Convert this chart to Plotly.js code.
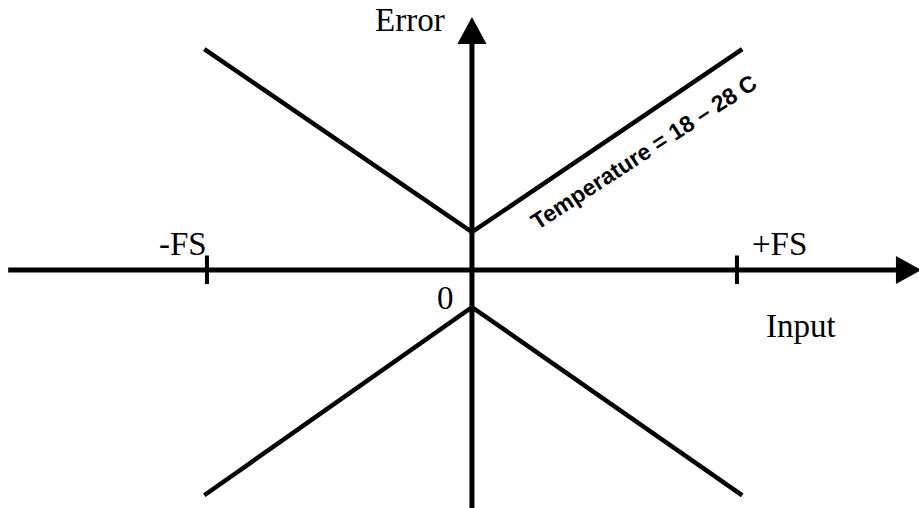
<!DOCTYPE html>
<html>
<head>
<meta charset="utf-8">
<script src="https://cdn.plot.ly/plotly-3.0.1.min.js"></script>
<style>
  html, body { margin: 0; padding: 0; background: #fff; }
  #chart { width: 919px; height: 508px; }
</style>
</head>
<body>
<div id="chart"></div>
<script>
// Input in units of full scale (FS), error in the same relative units
const inputPoints = [-1.01, 0, 1.02];
const upperError  = [0.834, 0.143, 0.834];   // temperature = 18 - 28 C band
const lowerError  = [-0.85, -0.14, -0.85];
const fsTicks     = [-1, 1];
const fsLabels    = ['-FS', '+FS'];

const serif = 'Liberation Serif, Times New Roman, serif';
const sans  = 'Liberation Sans, Arial, sans-serif';

const lineStyle = { color: '#000', width: 4.5 };

const traces = [
  { x: inputPoints, y: upperError, mode: 'lines', line: lineStyle, hoverinfo: 'skip' },
  { x: inputPoints, y: lowerError, mode: 'lines', line: lineStyle, hoverinfo: 'skip' }
];

// axes drawn as shapes so they can end in arrowheads
const axisLine = { color: '#000', width: 5 };
const shapes = [
  { type: 'line', xref: 'x', yref: 'y', x0: -1.75, x1: 1.60, y0: 0, y1: 0, line: axisLine },
  { type: 'line', xref: 'x', yref: 'y', x0: 0, x1: 0, y0: -0.92, y1: 0.88, line: axisLine },
  { type: 'path', xref: 'x', yref: 'y', path: 'M 1.60 0.053 L 1.695 0 L 1.60 -0.053 Z',
    fillcolor: '#000', line: { width: 0 } },
  { type: 'path', xref: 'x', yref: 'y', path: 'M -0.055 0.853 L 0 0.955 L 0.055 0.853 Z',
    fillcolor: '#000', line: { width: 0 } }
];
fsTicks.forEach(t => shapes.push({
  type: 'line', xref: 'x', yref: 'y', x0: t, x1: t, y0: -0.053, y1: 0.055, line: { color: '#000', width: 4 }
}));

const labelFont = { family: serif, size: 33, color: '#000' };
const annotations = [
  { x: -0.235, y: 0.943, text: 'Error', font: labelFont },
  { x: fsTicks[0] - 0.09, y: 0.10, text: fsLabels[0], font: labelFont },
  { x: fsTicks[1] + 0.16, y: 0.10, text: fsLabels[1], font: labelFont },
  { x: -0.098, y: -0.106, text: '0', font: labelFont },
  { x: 1.24, y: -0.211, text: 'Input', font: labelFont },
  { x: 0.648, y: 0.445, text: 'Temperature = 18 – 28 C', textangle: -33,
    font: { family: sans, size: 23, color: '#000', weight: 'bold' } }
].map(a => Object.assign({ xref: 'x', yref: 'y', showarrow: false, xanchor: 'center', yanchor: 'middle' }, a));

const layout = {
  width: 919, height: 508,
  margin: { l: 0, r: 0, t: 0, b: 0 },
  paper_bgcolor: '#fff', plot_bgcolor: '#fff',
  showlegend: false,
  xaxis: { range: [-1.781, 1.687], visible: false, fixedrange: true },
  yaxis: { range: [-0.898, 1.019], visible: false, fixedrange: true },
  shapes: shapes,
  annotations: annotations
};

Plotly.newPlot('chart', traces, layout, { staticPlot: true, displayModeBar: false });
</script>
</body>
</html>
